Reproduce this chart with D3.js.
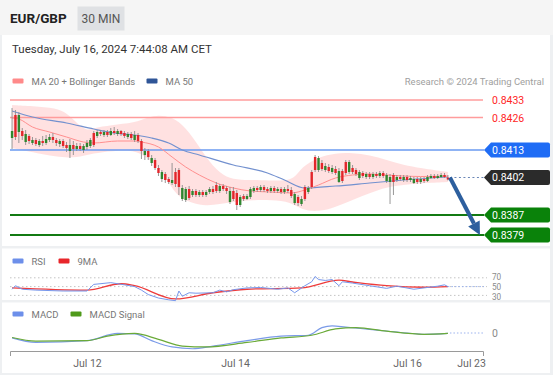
<!DOCTYPE html>
<html>
<head>
<meta charset="utf-8">
<script src="https://cdn.jsdelivr.net/npm/d3@7"></script>
<style>
  html, body { margin: 0; padding: 0; background: #fff; }
  svg { display: block; font-family: Roboto, "Liberation Sans", Arial, sans-serif; }
</style>
</head>
<body>
<svg id="chart" width="553" height="375"></svg>
<script>
// prices are stored x 1e5 (84206 = 0.84206)
const PX = 1e5;

// 30 min candles [open, high, low, close]
const candles = [
  [84206,84298,84134,84178],[84182,84290,84170,84270],[84270,84282,84158,84202],[84186,84218,84170,84206],
  [84194,84210,84150,84162],[84166,84194,84154,84186],[84170,84182,84150,84158],[84154,84178,84146,84170],
  [84166,84174,84142,84150],[84158,84186,84146,84166],[84174,84190,84150,84158],[84182,84194,84162,84170],
  [84170,84198,84158,84182],[84158,84178,84146,84170],[84166,84174,84142,84154],[84146,84174,84138,84166],
  [84138,84162,84122,84150],[84150,84174,84098,84126],[84134,84166,84110,84150],[84146,84158,84126,84134],
  [84134,84158,84126,84146],[84146,84154,84118,84130],[84158,84170,84130,84142],[84170,84178,84138,84146],
  [84150,84206,84142,84198],[84202,84210,84178,84186],[84194,84210,84186,84202],[84202,84210,84182,84190],
  [84190,84210,84182,84202],[84206,84218,84186,84190],[84198,84222,84190,84206],[84206,84214,84186,84194],
  [84194,84210,84186,84206],[84186,84206,84178,84198],[84194,84202,84174,84182],[84178,84202,84170,84194],
  [84190,84206,84162,84170],[84166,84198,84158,84190],[84126,84174,84094,84166],[84126,84138,84090,84110],
  [84102,84134,84090,84126],[84098,84110,84066,84078],[84058,84098,84050,84090],[84038,84070,84026,84058],
  [84042,84050,84002,84014],[84010,84042,83998,84034],[84002,84022,83994,84014],[84010,84078,83990,83998],
  [83994,84058,83982,84042],[83982,84058,83950,84050],[83978,83990,83926,83934],[83974,83982,83922,83930],
  [83938,83986,83930,83974],[83966,83974,83942,83950],[83950,83974,83942,83966],[83962,83970,83942,83950],
  [83950,83970,83942,83962],[83962,83970,83942,83950],[83974,83982,83954,83962],[83962,83986,83954,83974],
  [83966,84002,83958,83990],[83986,83994,83958,83966],[83974,83994,83966,83986],[83966,83986,83954,83978],
  [83966,83982,83914,83922],[83934,83982,83926,83966],[83910,83970,83890,83958],[83942,83950,83902,83910],
  [83934,83954,83926,83946],[83946,83954,83930,83934],[83974,83982,83934,83942],[83978,83986,83958,83966],
  [83970,83986,83962,83978],[83982,83990,83962,83970],[83970,83990,83962,83982],[83966,83982,83958,83974],
  [83978,83986,83958,83966],[83966,83986,83958,83978],[83974,83982,83958,83966],[83962,83982,83954,83974],
  [83974,83982,83954,83962],[83966,83990,83958,83974],[83946,83982,83938,83970],[83954,83962,83910,83918],
  [83918,83950,83906,83942],[83934,83946,83906,83914],[83934,83990,83926,83982],[83978,83986,83954,83962],
  [83982,84050,83974,84042],[84050,84110,84042,84102],[84098,84106,84042,84050],[84054,84090,84046,84078],
  [84066,84078,84042,84050],[84046,84074,84038,84062],[84058,84070,84034,84042],[84038,84066,84030,84054],
  [84046,84058,83998,84002],[84006,84054,83998,84046],[84038,84090,84030,84082],[84082,84090,84034,84042],
  [84042,84070,84034,84058],[84034,84058,84026,84050],[84042,84050,84010,84018],[84026,84046,84018,84038],
  [84034,84042,84014,84022],[84022,84042,84014,84034],[84034,84042,84014,84022],[84026,84042,84018,84034],
  [84038,84046,84018,84026],[84026,84046,84018,84038],[84030,84038,83998,84006],[84022,84034,83914,84002],
  [84002,84038,83950,84030],[84022,84030,84002,84010],[84014,84030,84006,84022],[84022,84030,84002,84010],
  [84010,84030,84002,84022],[84018,84026,84002,84010],[84014,84022,83994,83998],[84002,84022,83994,84014],
  [84014,84022,83994,84002],[84006,84022,83998,84014],[84022,84030,84002,84006],[84026,84034,84014,84018],
  [84018,84034,84014,84026],[84026,84034,84014,84018],[84030,84038,84018,84022],[84022,84038,84018,84030],
  [84012,84030,84008,84020]
];

// indicator readings [candle index, value]
const ma20 = [[0,84258],[2,84254],[6,84222],[11,84202],[16,84182],[21,84162],[24,84158],[31,84166],[36,84166],
  [38,84162],[43,84142],[47,84102],[51,84062],[55,84030],[60,83998],[65,83978],[70,83966],[76,83962],[82,83958],
  [86,83970],[90,83990],[95,84018],[100,84030],[105,84034],[110,84030],[115,84026],[120,84024],[128,84026]];
const bbUpper = [[0,84310],[6,84306],[13,84298],[16,84278],[19,84238],[22,84206],[24,84218],[29,84230],[36,84238],
  [40,84262],[43,84270],[47,84262],[51,84222],[55,84142],[59,84062],[63,84018],[67,84010],[73,84010],[79,84006],
  [83,84014],[85,84062],[90,84102],[95,84118],[100,84118],[105,84110],[110,84090],[115,84070],[120,84058],[128,84042]];
const bbLower = [[0,84138],[6,84122],[13,84102],[18,84098],[22,84110],[26,84122],[34,84130],[38,84118],[43,84062],
  [46,83998],[49,83938],[53,83918],[57,83906],[61,83914],[65,83922],[71,83930],[76,83930],[82,83922],[85,83890],
  [90,83882],[95,83902],[100,83930],[105,83958],[110,83982],[115,83990],[120,83998],[128,84002]];
const ma50 = [[0,84286],[6,84262],[16,84238],[24,84214],[30,84198],[36,84190],[41,84178],[46,84158],[50,84130],
  [55,84110],[65,84070],[75,84038],[80,84010],[86,83978],[95,83986],[105,83998],[115,84010],[128,84022]];

const rsi = [[0,44],[1,52],[3,44],[7,42],[15,40],[22,40],[24,55],[29,59],[33,54],[36,50],[38,42],[40,32],[43,24],
  [46,20],[48,18],[49,40],[50,28],[52,36],[54,35],[59,36],[61,42],[63,38],[65,43],[69,47],[73,48],[78,44],[81,47],
  [83,36],[86,52],[88,61],[89,73],[90,66],[92,64],[94,66],[96,52],[97,61],[100,58],[105,52],[110,46],[113,51],
  [118,44],[121,47],[125,51],[127,54],[128,50]];
const rsiMa = [[0,47],[22,42],[32,56.5],[36,52],[48,22],[59,36],[69,44],[85,47],[96,64.5],[100,60.5],[110,52],
  [121,48.5],[128,50]];
const rsiLevels = [70, 50, 30];

const macd = [[0,-0.00011],[7,-0.00021],[22,-0.00017],[31,-0.00001],[36,-0.00002],[41,-0.00017],[47,-0.00031],
  [53,-0.00035],[59,-0.00029],[69,-0.00017],[79,-0.00007],[87,-0.00005],[91,0.00012],[94,0.00016],[98,0.00013],
  [105,0.00008],[116,0.00000],[121,-0.00003],[128,-0.00001]];
const macdSignal = [[0,-0.00010],[7,-0.00018],[22,-0.00017],[28,-0.00007],[36,-0.00001],[43,-0.00014],[50,-0.00029],
  [57,-0.00031],[69,-0.00021],[79,-0.00011],[88,-0.00005],[95,0.00009],[101,0.00012],[110,0.00004],[121,-0.00003],
  [128,-0.00001]];

// key levels
const resistances = [0.8433, 0.8426];
const pivot = 0.8413;
const lastPrice = 0.8402;
const supports = [0.8387, 0.8379];
const target = 0.8379;

const tickIdx = [22, 65.5, 116, 134.8];
const tickLabels = ["Jul 12", "Jul 14", "Jul 16", "Jul 23"];

// ---------------------------------------------------------------
const svg = d3.select("#chart");
const W = 553, H = 375;
const xS = d3.scaleLinear().domain([-0.6, 138.3]).range([10, 483]);
const yP = d3.scaleLinear().domain([0.8379, 0.8433]).range([235, 100]);
const yR = d3.scaleLinear().domain([30, 70]).range([295.4, 277.8]);
const yM = d3.scaleLinear().domain([-0.0004, 0.0002]).range([351, 324]);

// frame + panels
svg.append("rect").attr("width", W).attr("height", H).attr("fill", "#eef0f2");
svg.append("rect").attr("x", 0).attr("y", 0).attr("width", W).attr("height", 35).attr("fill", "#f5f5f5");
[[35, 246], [248.5, 300], [302.5, 373]].forEach(([a, b]) => {
  svg.append("rect").attr("x", 2).attr("y", a).attr("width", W - 5).attr("height", b - a).attr("fill", "#fff");
});

// header
svg.append("text").attr("x", 10).attr("y", 23).attr("font-size", 13.5).attr("font-weight", "bold")
  .attr("fill", "#222").text("EUR/GBP");
svg.append("rect").attr("x", 77.5).attr("y", 6.5).attr("width", 47).attr("height", 24).attr("fill", "#dfe1e4");
svg.append("text").attr("x", 101).attr("y", 22.5).attr("text-anchor", "middle").attr("font-size", 12)
  .attr("fill", "#555").text("30 MIN");
svg.append("text").attr("x", 12).attr("y", 52.5).attr("font-size", 11.5).attr("fill", "#333")
  .text("Tuesday, July 16, 2024 7:44:08 AM CET");

// legends
function legend(items, y) {
  items.forEach(d => {
    svg.append("rect").attr("x", d.x).attr("y", y - 2.5).attr("width", 11).attr("height", 5).attr("rx", 1)
      .attr("fill", d.color);
    svg.append("text").attr("x", d.x + 19).attr("y", y + 3.5).attr("font-size", 9.5).attr("fill", "#777").text(d.label);
  });
}
legend([{x: 12.5, color: "#ff8a8a", label: "MA 20 + Bollinger Bands"}, {x: 146.5, color: "#2f5597", label: "MA 50"}], 81);
legend([{x: 12.5, color: "#6d8fea", label: "RSI"}, {x: 58.5, color: "#e8262b", label: "9MA"}], 261);
legend([{x: 12.5, color: "#6d8fea", label: "MACD"}, {x: 70.5, color: "#4f9a1a", label: "MACD Signal"}], 314);
svg.append("text").attr("x", 544).attr("y", 84.5).attr("text-anchor", "end").attr("font-size", 9.5)
  .attr("fill", "#a0a0a0").text("Research \u00a9 2024 Trading Central");

// Bollinger band fill
const smooth = d3.line().x(d => xS(d[0])).y(d => yP(d[1] / PX)).curve(d3.curveBasis);
const bandPath = smooth(bbUpper) + smooth(bbLower.slice().reverse()).replace(/^M/, "L") + "Z";
svg.append("path").attr("d", bandPath).attr("fill", "#ffd9d9").attr("opacity", 0.8);

// level lines
resistances.forEach(p => {
  svg.append("line").attr("x1", 10).attr("x2", 483).attr("y1", yP(p)).attr("y2", yP(p))
    .attr("stroke", "#ff9c9c").attr("stroke-width", 1.3);
  svg.append("text").attr("x", 492).attr("y", yP(p) + 4).attr("font-size", 10.5).attr("fill", "#ff2626")
    .text(p.toFixed(4));
});
svg.append("line").attr("x1", 10).attr("x2", 484).attr("y1", yP(pivot)).attr("y2", yP(pivot))
  .attr("stroke", "#6a9af0").attr("stroke-width", 1.5);
supports.forEach(p => {
  svg.append("line").attr("x1", 10).attr("x2", 484).attr("y1", yP(p)).attr("y2", yP(p))
    .attr("stroke", "#137a13").attr("stroke-width", 2);
});

// MA lines
const maLine = d3.line().x(d => xS(d[0])).y(d => yP(d[1] / PX)).curve(d3.curveMonotoneX);
svg.append("path").attr("d", maLine(ma50)).attr("fill", "none").attr("stroke", "#7391cf").attr("stroke-width", 1.2);
svg.append("path").attr("d", maLine(ma20)).attr("fill", "none").attr("stroke", "#ff8f8f").attr("stroke-width", 1);

// candles
const cg = svg.append("g");
candles.forEach((c, i) => {
  const [o, h, l, cl] = c.map(v => v / PX);
  const x = xS(i);
  cg.append("line").attr("x1", x).attr("x2", x).attr("y1", yP(h)).attr("y2", yP(l))
    .attr("stroke", "#8c8c8c").attr("stroke-width", 0.9);
  const top = yP(Math.max(o, cl)), bot = yP(Math.min(o, cl));
  cg.append("rect").attr("x", x - 1.2).attr("y", top).attr("width", 2.4).attr("height", Math.max(1, bot - top))
    .attr("fill", cl >= o ? "#e3262b" : "#2f862f");
});

// last price dotted + forecast arrow
const lastX = xS(candles.length - 1);
svg.append("line").attr("x1", lastX + 2).attr("x2", 484).attr("y1", yP(lastPrice)).attr("y2", yP(lastPrice))
  .attr("stroke", "#6a86b6").attr("stroke-width", 1.2).attr("stroke-dasharray", "2,2.5");

const ax0 = lastX + 2, ay0 = yP(lastPrice), ax1 = xS(137.4), ay1 = yP(target);
const ang = Math.atan2(ay1 - ay0, ax1 - ax0), hl = 13, hw = 6.5;
const bx = ax1 - hl * Math.cos(ang), by = ay1 - hl * Math.sin(ang);
svg.append("line").attr("x1", ax0).attr("y1", ay0).attr("x2", bx).attr("y2", by)
  .attr("stroke", "#2d5f9e").attr("stroke-width", 4);
svg.append("path").attr("fill", "#2d5f9e").attr("d",
  `M${ax1},${ay1}L${bx + hw * Math.sin(ang)},${by - hw * Math.cos(ang)}L${bx - hw * Math.sin(ang)},${by + hw * Math.cos(ang)}Z`);

// price tags
function tag(p, fill) {
  const y = yP(p);
  svg.append("path").attr("fill", fill)
    .attr("d", `M484,${y}L491,${y - 7.5}H548a2,2 0 0 1 2,2V${y + 5.5}a2,2 0 0 1 -2,2H491Z`);
  svg.append("text").attr("x", 492).attr("y", y + 3.8).attr("font-size", 10.5).attr("fill", "#fff").text(p.toFixed(4));
}
tag(pivot, "#1f6cf5");
tag(lastPrice, "#2b2b2b");
supports.forEach(p => tag(p, "#0a820a"));

// RSI panel
rsiLevels.forEach(v => {
  svg.append("line").attr("x1", 10).attr("x2", 487).attr("y1", yR(v)).attr("y2", yR(v))
    .attr("stroke", "#c4c4c4").attr("stroke-dasharray", "1.5,2.5");
});
const rsiLast = rsi[rsi.length - 1];
svg.append("line").attr("x1", xS(rsiLast[0])).attr("x2", 484).attr("y1", yR(rsiLast[1])).attr("y2", yR(rsiLast[1]))
  .attr("stroke", "#9bb2ee").attr("stroke-dasharray", "1.5,2");
const rl = d3.line().x(d => xS(d[0])).y(d => yR(d[1]));
svg.append("path").attr("d", rl.curve(d3.curveMonotoneX)(rsiMa)).attr("fill", "none")
  .attr("stroke", "#ee3b3b").attr("stroke-width", 1.3);
svg.append("path").attr("d", rl.curve(d3.curveLinear)(rsi)).attr("fill", "none")
  .attr("stroke", "#7696ec").attr("stroke-width", 1);
// level labels are tight: small font, nudged apart by a pixel each way
rsiLevels.forEach((v, i) => {
  const y = yR(v) + (i - 1) * 1.1;
  svg.append("text").attr("x", 492).attr("y", y + 3).attr("font-size", 8.2).attr("fill", "#8a8a8a").text(v);
});

// MACD panel
const ml = d3.line().x(d => xS(d[0])).y(d => yM(d[1])).curve(d3.curveMonotoneX);
const macdLast = macd[macd.length - 1];
svg.append("line").attr("x1", xS(macdLast[0]) + 2).attr("x2", 484).attr("y1", yM(0)).attr("y2", yM(0))
  .attr("stroke", "#9bb2ee").attr("stroke-dasharray", "1.5,2");
svg.append("path").attr("d", ml(macd)).attr("fill", "none").attr("stroke", "#7b9be8").attr("stroke-width", 1.2);
svg.append("path").attr("d", ml(macdSignal)).attr("fill", "none").attr("stroke", "#6aaa38").attr("stroke-width", 1.2);
svg.append("text").attr("x", 492).attr("y", yM(0) + 4).attr("font-size", 10.5).attr("fill", "#8a8a8a").text("0");

// x axis
const xAxis = d3.axisBottom(xS).tickValues(tickIdx).tickFormat((d, i) => tickLabels[i])
  .tickSizeInner(0).tickSizeOuter(5).tickPadding(9);
const gx = svg.append("g").attr("transform", "translate(0,351)").call(xAxis);
gx.select(".domain").attr("stroke", "#9a9a9a");
gx.selectAll("text").attr("font-size", 10.5).attr("fill", "#666").attr("font-family", "Roboto, Arial, sans-serif");
</script>
</body>
</html>
